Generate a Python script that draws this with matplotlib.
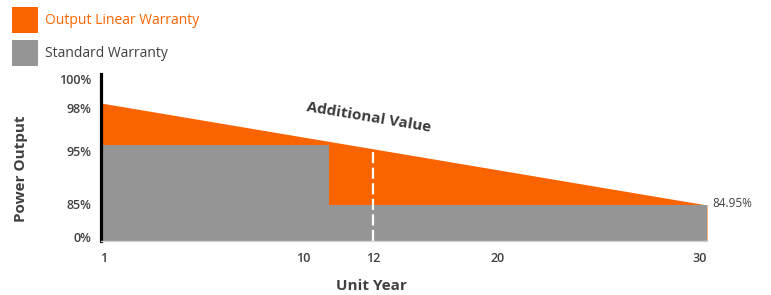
import numpy as np
import matplotlib
matplotlib.use('Agg')
import matplotlib.pyplot as plt
import matplotlib.transforms as mtransforms
from matplotlib.patches import Rectangle

# ===== DATA =====
linear_years = [1, 30]
linear_output = [98, 84.95]          # output linear warranty (%)
std_years = [1, 10.75, 30]
std_output = [95, 85, 85]            # standard (step) warranty (%)
marker_year = 12
x_ticks = [1, 10, 12, 20, 30]
x_tick_labels = ['1', '10', '12', '20', '30']
y_ticks = [0, 85, 95, 98, 100]
y_tick_labels = ['0%', '85%', '95%', '98%', '100%']
end_label = '84.95%'
# ================

ORANGE = '#F96400'
GRAY = '#969595'
TEXT = '#404040'
FONT = 'Open Sans'

# the infographic axes are not linear: pixel offsets of each tick inside the plot box
x_knots = [0, 202, 272, 397, 606]
y_knots = [0, 36, 96, 138, 167]


def fx(v):
    return np.interp(v, x_ticks, x_knots)


def fx_inv(p):
    return np.interp(p, x_knots, x_ticks)


def fy(v):
    return np.interp(v, y_ticks, y_knots)


def fy_inv(p):
    return np.interp(p, y_knots, y_ticks)


fig = plt.figure(figsize=(7.71, 2.95), dpi=100)
ax = fig.add_axes([101 / 771, 54 / 295, 606 / 771, 167 / 295])
ax.set_xscale('function', functions=(fx, fx_inv))
ax.set_yscale('function', functions=(fy, fy_inv))

# filled areas
ax.fill_between(linear_years, linear_output, 0, color=ORANGE, linewidth=0)
ax.fill_between(std_years, std_output, 0, step='post', color=GRAY, linewidth=0)

# dashed marker up to the linear warranty line
t = (fx(marker_year) - fx(linear_years[0])) / (fx(linear_years[1]) - fx(linear_years[0]))
top = fy_inv(fy(linear_output[0]) + t * (fy(linear_output[1]) - fy(linear_output[0])))
ax.plot([marker_year, marker_year], [0, top], color='white', linewidth=1.6, dashes=(5, 2))

ax.set_xlim(linear_years[0], linear_years[1])
ax.set_ylim(0, 100)

ax.set_xticks(x_ticks)
ax.set_xticklabels(x_tick_labels)
ax.set_yticks(y_ticks)
ax.set_yticklabels(y_tick_labels)
ax.tick_params(length=0, labelsize=9, labelcolor=TEXT)
ax.tick_params(axis='x', pad=8)
ax.tick_params(axis='y', pad=7)
for lbl in ax.get_xticklabels() + ax.get_yticklabels():
    lbl.set_fontfamily(FONT)
    lbl.set_fontweight('semibold')

# small nudges so the labels sit where the original puts them
x_nudge = [3, 0, 0, 0, -7]
y_nudge = [4, 1, -6, -5, -5]
for lbl, dx in zip(ax.get_xticklabels(), x_nudge):
    lbl.set_transform(lbl.get_transform() + mtransforms.ScaledTranslation(dx / 100, 0, fig.dpi_scale_trans))
for lbl, dy in zip(ax.get_yticklabels(), y_nudge):
    lbl.set_transform(lbl.get_transform() + mtransforms.ScaledTranslation(0, dy / 100, fig.dpi_scale_trans))

for side in ['top', 'right']:
    ax.spines[side].set_visible(False)
ax.spines['left'].set_color('black')
ax.spines['left'].set_linewidth(2.3)
ax.spines['bottom'].set_color('#d4d4d4')
ax.spines['bottom'].set_linewidth(1)

# labels
fig.text(21 / 771, 1 - 169 / 295, 'Power Output', rotation=90, ha='center', va='center',
         fontsize=11, fontweight='bold', color=TEXT, family=FONT)
fig.text(371 / 771, 1 - 286 / 295, 'Unit Year', ha='center', va='center',
         fontsize=11, fontweight='bold', color=TEXT, family=FONT)
ax.annotate(end_label, xy=(linear_years[1], linear_output[1]), xytext=(4, 1),
            textcoords='offset points', ha='left', va='center',
            fontsize=8.5, color=TEXT, family=FONT)
fig.text(369 / 771, 1 - 117 / 295, 'Additional Value', rotation=-9.5, ha='center', va='center',
         fontsize=11, fontweight='bold', color='#3a3a3a', family=FONT, rotation_mode='anchor')

# legend drawn by hand, like the infographic
legend_items = [('Output Linear Warranty', ORANGE, ORANGE, 7),
                ('Standard Warranty', GRAY, TEXT, 40)]
for text, face, tcolor, ytop in legend_items:
    fig.patches.append(Rectangle((12 / 771, 1 - (ytop + 26) / 295), 26 / 771, 26 / 295,
                                 transform=fig.transFigure, facecolor=face, edgecolor='none'))
    fig.text(45 / 771, 1 - (ytop + 13) / 295, text, ha='left', va='center',
             fontsize=10, color=tcolor, family=FONT)

fig.savefig('out.png', dpi=100)
plt.close('all')
